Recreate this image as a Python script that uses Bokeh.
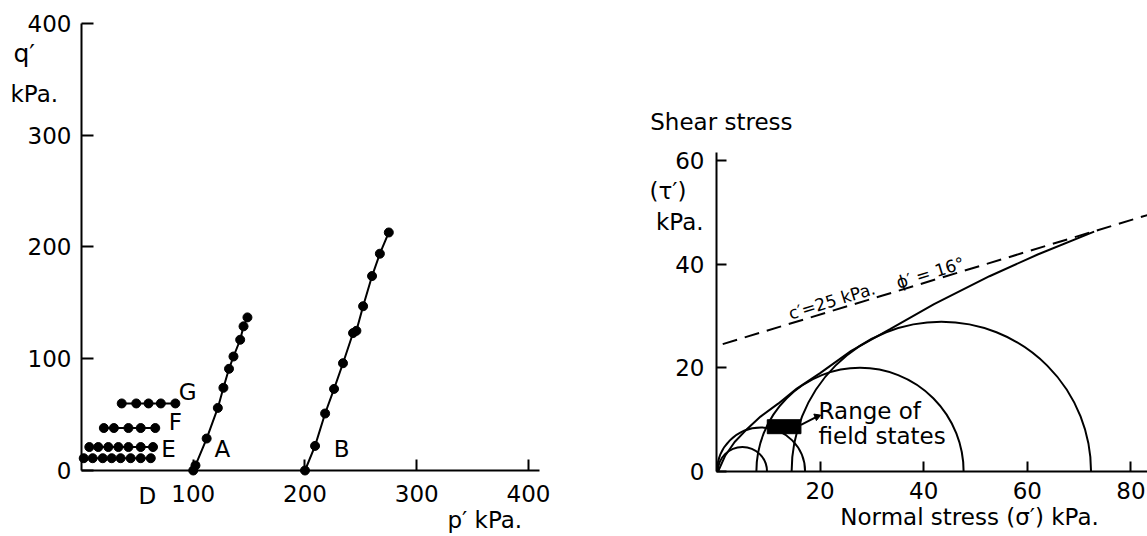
import math
from bokeh.plotting import figure
from bokeh.models import Range1d, FixedTicker, Label, LinearAxis
from bokeh.embed import file_html
from bokeh.resources import INLINE

FONT = "DejaVu Sans"
FS = "23px"

# ---------------- left chart: stress paths (p', q') in kPa ----------------
d_p = [2, 10, 19, 27, 35, 44, 53, 62]
d_q = [11, 11, 11, 11, 11, 11, 11, 11]
e_p = [7, 15, 24, 33, 42, 53, 64]
e_q = [21, 21, 21, 21, 21, 21, 21]
f_p = [20, 29, 42, 53, 66]
f_q = [38, 38, 38, 38, 38]
g_p = [36, 49, 60, 71, 84]
g_q = [60, 60, 60, 60, 60]
a_p = [100, 102, 112, 122, 127, 132, 136, 142, 145, 148.5]
a_q = [0, 4.5, 28.6, 56, 74, 91, 102, 117, 129, 137]
b_p = [200, 209, 218, 226, 234, 243, 246, 252, 260, 267, 275]
b_q = [0, 22, 51, 73, 96, 123, 125, 147, 174, 194, 213]
left_xticks = [100, 200, 300, 400]
left_yticks = [0, 100, 200, 300, 400]

# ---------------- right chart: Mohr circles (sigma', tau') in kPa ----------------
circle_centers = [5.0, 8.6, 27.7, 43.4]
circle_radii = [4.75, 8.5, 20.0, 28.9]
env_sigma = [0.3, 1.7, 3.5, 5.6, 8.5, 11.9, 15.5, 20.0, 26.0, 33.5, 42.0, 52.7, 62.0, 72.9]
env_tau = [0.0, 3.1, 5.7, 7.9, 10.6, 13.1, 16.0, 19.0, 23.3, 27.5, 32.3, 37.7, 41.9, 46.3]
dash_sigma = [1.2, 83.5]
dash_tau = [24.6, 49.6]
field_left = [9.8]
field_right = [16.3]
field_bottom = [7.3]
field_top = [10.0]
leader_sigma = [16.3, 19.4]
leader_tau = [9.0, 10.6]
right_xticks = [20, 40, 60, 80]
right_yticks = [0, 20, 40, 60]

p = figure(width=1147, height=534,
           x_range=Range1d(-72.48, 953.92), y_range=Range1d(-57.27, 420.58),
           x_axis_type=None, y_axis_type=None,
           output_backend="svg", toolbar_location=None, title=None,
           min_border=0, min_border_left=0, min_border_right=0,
           min_border_top=0, min_border_bottom=0)
p.extra_x_ranges = {"sig": Range1d(-138.22, 83.2)}
p.extra_y_ranges = {"tau": Range1d(-12.16, 90.93)}
p.grid.visible = False
p.outline_line_color = None
p.background_fill_color = "white"
p.border_fill_color = "white"


def make_axis(ticks, bounds, standoff, tick_in, rn=None):
    kw = {}
    if rn:
        kw = dict(x_range_name="sig", y_range_name="tau")
    ax = LinearAxis(ticker=FixedTicker(ticks=ticks), bounds=bounds, fixed_location=0, **kw)
    ax.axis_line_width = 2
    ax.axis_line_color = "black"
    ax.major_tick_line_width = 2
    ax.major_tick_line_color = "black"
    ax.major_tick_in = tick_in
    ax.major_tick_out = 0
    ax.minor_tick_line_color = None
    ax.major_label_text_font = FONT
    ax.major_label_text_font_size = FS
    ax.major_label_text_color = "black"
    ax.major_label_standoff = standoff
    return ax


p.add_layout(make_axis(left_xticks, (0, 410), 14, 11), "below")
p.add_layout(make_axis(left_yticks, (0, 400), 10, 12), "left")
p.add_layout(make_axis(right_xticks, (0, 83.2), 10, 10, True), "below")
p.add_layout(make_axis(right_yticks, (0, 61.5), 12, 10, True), "left")


def lab(x, y, text, align="left", size=FS, angle=0.0, baseline="middle", rn=False):
    kw = {}
    if rn:
        kw = dict(x_range_name="sig", y_range_name="tau")
    p.add_layout(Label(x=x, y=y, text=text, text_font=FONT, text_font_size=size,
                       text_color="black", text_align=align, text_baseline=baseline,
                       angle=angle, angle_units="deg", **kw))


# left chart marks
for xs, ys in ((d_p, d_q), (e_p, e_q), (f_p, f_q), (g_p, g_q), (a_p, a_q), (b_p, b_q)):
    p.line(xs, ys, line_color="black", line_width=2)
    p.scatter(xs, ys, marker="circle", size=9, color="black")

lab(94.9, 69.8, "G", "center")
lab(84.1, 43.0, "F", "center")
lab(77.9, 18.8, "E", "center")
lab(59.0, -22.4, "D", "center")
lab(126.0, 18.8, "A", "center")
lab(232.7, 18.8, "B", "center")
lab(-60.9, 373.2, "q\u2032", "left", "25px")
lab(-63.5, 337.0, "kPa.", "left")
lab(327.5, -44.7, "p\u2032 kPa.", "left")

# right chart marks
R = dict(x_range_name="sig", y_range_name="tau")
p.arc(x=circle_centers, y=[0, 0, 0, 0], radius=circle_radii, start_angle=0, end_angle=math.pi,
      line_color="black", line_width=2, **R)
p.line(env_sigma, env_tau, line_color="black", line_width=2, **R)
p.line(dash_sigma, dash_tau, line_color="black", line_width=2, line_dash="15 8", **R)
p.quad(left=field_left, right=field_right, bottom=field_bottom, top=field_top,
       fill_color="black", line_color="black", **R)
p.line(leader_sigma, leader_tau, line_color="black", line_width=2, **R)
p.scatter([19.4], [10.6], marker="triangle", size=7, angle=-1.2, color="black", **R)

lab(14.67, 67.4, "Shear stress", "right", rn=True)
lab(-5.8, 54.2, "(\u03c4\u2032)", "right", rn=True)
lab(-2.5, 48.1, "kPa.", "right", rn=True)
lab(19.7, 11.7, "Range of", "left", rn=True)
lab(19.7, 6.9, "field states", "left", rn=True)
lab(23.9, -8.7, "Normal stress  (\u03c3\u2032) kPa.", "left", rn=True)
lab(14.0, 30.4, "c\u2032=25 kPa.", "left", "17px", 17.0, "alphabetic", rn=True)
lab(34.8, 36.4, "\u03d5\u2032 = 16\u00b0", "left", "17px", 17.0, "alphabetic", rn=True)

open("out.html", "w").write(file_html(p, INLINE))
